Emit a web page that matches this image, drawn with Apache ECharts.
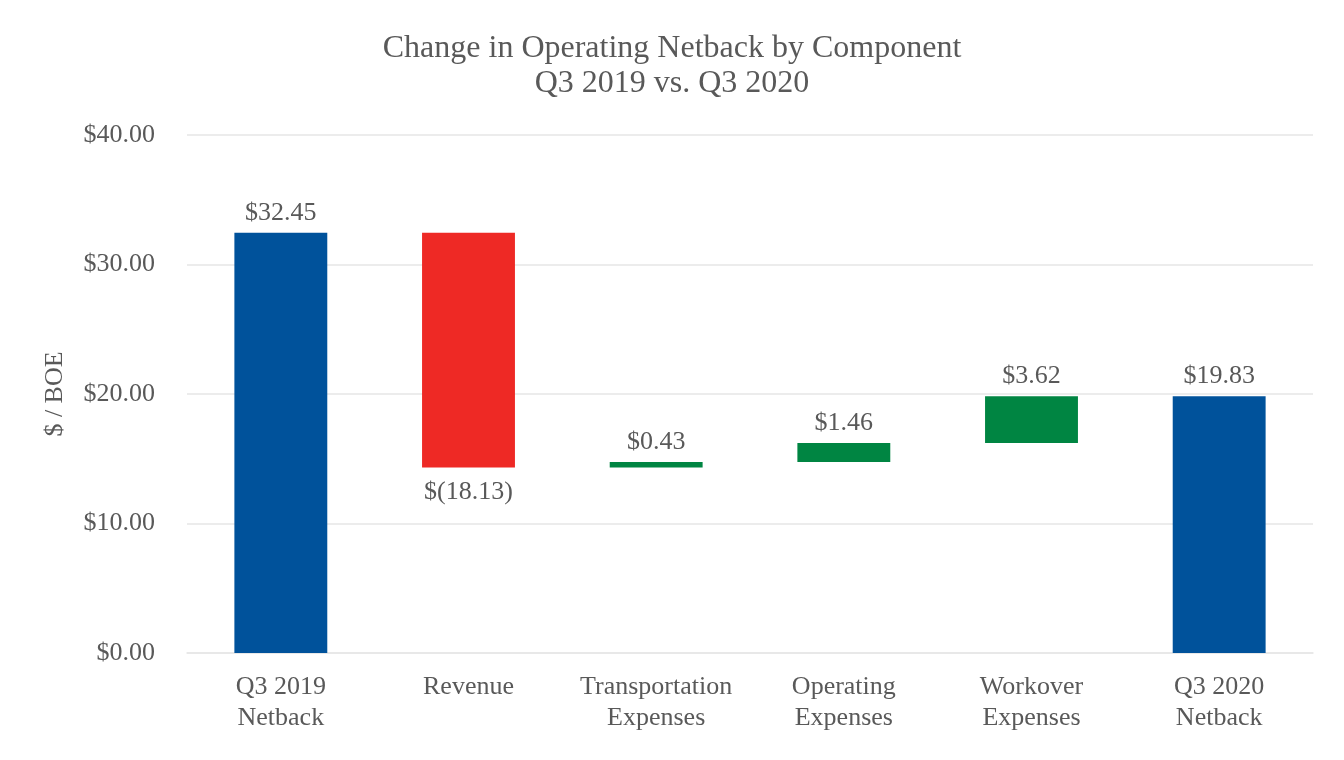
<!DOCTYPE html>
<html><head><meta charset="utf-8">
<script src="https://cdn.jsdelivr.net/npm/echarts@6/dist/echarts.min.js"></script>
<style>html,body{margin:0;padding:0;background:#fff}#c{width:1344px;height:760px}</style>
</head><body><div id="c"></div>
<script>
const categories = ['Q3 2019\nNetback', 'Revenue', 'Transportation\nExpenses', 'Operating\nExpenses', 'Workover\nExpenses', 'Q3 2020\nNetback'];
const values = [32.45, -18.13, 0.43, 1.46, 3.62, 19.83];
const kinds = ['total', 'delta', 'delta', 'delta', 'delta', 'total'];
const yTicks = [0, 10, 20, 30, 40];

const COLORS = {total: '#00529B', up: '#008542', down: '#EE2925'};
const FONT = 'Liberation Serif';
const TXT = '#595959';

const base = [], bars = [];
let running = 0;
values.forEach((v, i) => {
  if (kinds[i] === 'total') {
    base.push(0);
    bars.push({value: v, itemStyle: {color: COLORS.total}, label: {position: 'top', distance: 7}});
    running = v;
  } else {
    const next = running + v;
    base.push(Math.min(running, next));
    bars.push({
      value: Math.abs(v),
      itemStyle: {color: v < 0 ? COLORS.down : COLORS.up},
      label: {position: v < 0 ? 'bottom' : 'top', distance: v < 0 ? 12 : 7}
    });
    running = next;
  }
});

function fmt(v) {
  const s = Math.abs(v).toFixed(2);
  return v < 0 ? '$(' + s + ')' : '$' + s;
}

const chart = echarts.init(document.getElementById('c'), null, {renderer: 'canvas'});
chart.setOption({
  backgroundColor: '#fff',
  textStyle: {fontFamily: FONT},
  title: {
    text: 'Change in Operating Netback by Component\nQ3 2019 vs. Q3 2020',
    left: 'center', top: 26,
    textStyle: {fontFamily: FONT, fontSize: 32, fontWeight: 'normal', color: TXT, lineHeight: 35}
  },
  grid: {left: 187, right: 31, top: 135, bottom: 107, containLabel: false},
  xAxis: {
    type: 'category', data: categories,
    axisLine: {show: true, lineStyle: {color: '#E6E6E6', width: 1.5}},
    axisTick: {show: false},
    axisLabel: {fontFamily: FONT, fontSize: 26, color: TXT, lineHeight: 31, margin: 19, interval: 0}
  },
  yAxis: {
    type: 'value', min: yTicks[0], max: yTicks[yTicks.length - 1], interval: 10,
    name: '$ / BOE', nameLocation: 'middle', nameGap: 119, nameRotate: 90,
    nameTextStyle: {fontFamily: FONT, fontSize: 26, color: TXT},
    axisLine: {show: false}, axisTick: {show: false},
    splitLine: {lineStyle: {color: '#E6E6E6', width: 1.5}},
    axisLabel: {fontFamily: FONT, fontSize: 26, color: TXT, margin: 32, formatter: v => '$' + v.toFixed(2)}
  },
  series: [
    {type: 'bar', stack: 'w', data: base, itemStyle: {color: 'transparent'}, barWidth: '49.5%', silent: true},
    {
      type: 'bar', stack: 'w', data: bars, barWidth: '49.5%',
      label: {
        show: true, fontFamily: FONT, fontSize: 26, color: TXT,
        formatter: p => fmt(values[p.dataIndex])
      }
    }
  ]
});
</script></body></html>
